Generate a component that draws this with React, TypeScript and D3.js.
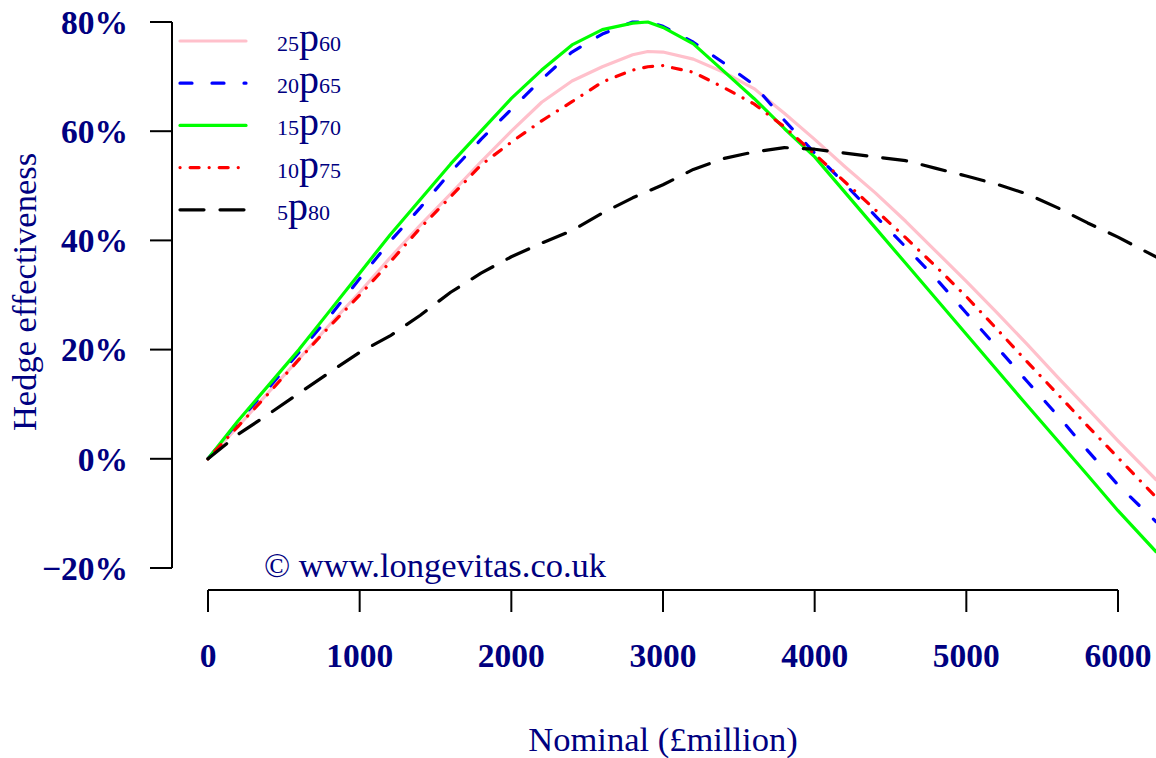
import React from 'react';
import * as d3 from 'd3';

// data
const nominal = [0, 200, 400, 600, 800, 1000, 1200, 1400, 1600, 1800, 2000, 2200, 2400, 2600, 2800, 2900, 3000, 3200, 3400, 3600, 3800, 4000, 4200, 4400, 4600, 4800, 5000, 5200, 5400, 5600, 5800, 6000, 6250];
const p25_60 = [0, 6, 12.2, 18.3, 24.5, 30.5, 36.8, 42.8, 48.5, 54.4, 60, 65.3, 69.2, 71.8, 74, 74.6, 74.5, 73.2, 70.8, 67.8, 63.3, 58.5, 53.5, 48.7, 43.5, 38, 32.5, 26.8, 21, 15, 9.2, 3.3, -3.8];
const p20_65 = [0, 6.8, 13, 19.5, 26, 33, 39.8, 46, 52.5, 58.5, 64, 69.5, 74.5, 77.8, 80, 80, 79.2, 76.3, 72.5, 68.5, 62, 56, 50.3, 44.5, 38.8, 33, 26.7, 20.5, 14.2, 8, 1.5, -4.8, -11.5];
const p15_70 = [0, 7, 13.5, 20, 27, 34, 41, 47.5, 54, 60, 66, 71.2, 75.8, 78.6, 79.8, 80, 79, 76, 71, 66, 60.5, 55.3, 48.8, 42.3, 35.8, 29.3, 22.8, 16.3, 9.8, 3.4, -3, -9.5, -17];
const p10_75 = [0, 6, 12, 18.2, 24.2, 30, 36, 42.3, 48, 53.8, 58, 61.9, 65.4, 69, 71.2, 71.8, 72, 70.8, 68, 65, 60.8, 55.8, 50.7, 45.6, 40.5, 35.2, 29.7, 23.8, 17.8, 11.9, 6, 0.2, -7];
const p5_80 = [0, 4.5, 8.2, 12, 15.8, 19.5, 22.5, 26.3, 30.5, 34, 37, 39.5, 41.8, 45, 47.8, 49, 50.2, 53, 55, 56.2, 57, 56.7, 56, 55.3, 54.6, 53.2, 51.8, 50.3, 48.5, 46, 43.2, 40.6, 37];

const legendPre = ['25', '20', '15', '10', '5'];
const legendPost = ['60', '65', '70', '75', '80'];
const xTicks = [0, 1000, 2000, 3000, 4000, 5000, 6000];
const yTicks = [-20, 0, 20, 40, 60, 80];

const navy = '#000080';
const font = "'Liberation Serif', 'Times New Roman', serif";

const seriesStyle = [
  { values: p25_60, color: '#FFC0CB', dash: null },
  { values: p20_65, color: '#0000FF', dash: '12 20' },
  { values: p15_70, color: '#00FF00', dash: null },
  { values: p10_75, color: '#FF0000', dash: '0.1 10 9 10' },
  { values: p5_80, color: '#000000', dash: '24 16' },
];

export default function App() {
  const width = 1156;
  const height = 758;
  const x = d3.scaleLinear().domain([0, 6000]).range([208, 1118]);
  const y = d3.scaleLinear().domain([-20, 80]).range([568, 22]);
  const line = d3
    .line<number>()
    .x((_, i) => x(nominal[i]))
    .y((d) => y(d));

  const legendX0 = 180;
  const legendX1 = 246;
  const legendY0 = 41;
  const legendStep = 42.2;

  return (
    <svg width={width} height={height} style={{ position: 'absolute', left: 0, top: 0, background: '#fff' }} fontFamily={font}>
      {/* lines */}
      {seriesStyle.map((s, i) => (
        <path
          key={i}
          d={line(s.values) || ''}
          fill='none'
          stroke={s.color}
          strokeWidth={3.2}
          strokeLinecap='round'
          strokeLinejoin='round'
          strokeDasharray={s.dash || undefined}
        />
      ))}
      {/* y axis */}
      <line x1={172} x2={172} y1={y(80)} y2={y(-20)} stroke='#000' strokeWidth={2} />
      {yTicks.map((t) => (
        <g key={t}>
          <line x1={150} x2={172} y1={y(t)} y2={y(t)} stroke='#000' strokeWidth={2} />
          <text x={128} y={y(t)} dy='0.35em' textAnchor='end' fontWeight='bold' fontSize={33.5} fill={navy}>
            {t < 0 ? '\u2212' + Math.abs(t) + '%' : t + '%'}
          </text>
        </g>
      ))}
      {/* x axis */}
      <line x1={x(0)} x2={x(6000)} y1={590} y2={590} stroke='#000' strokeWidth={2} />
      {xTicks.map((t) => (
        <g key={t}>
          <line x1={x(t)} x2={x(t)} y1={590} y2={612} stroke='#000' strokeWidth={2} />
          <text x={x(t)} y={667} textAnchor='middle' fontWeight='bold' fontSize={33.5} fill={navy}>
            {t}
          </text>
        </g>
      ))}
      {/* titles */}
      <text x={663} y={751} textAnchor='middle' fontSize={34.5} fill={navy}>
        Nominal (£million)
      </text>
      <text transform={`translate(36,${292}) rotate(-90)`} textAnchor='middle' fontSize={34.5} fill={navy}>
        Hedge effectiveness
      </text>
      <text x={264} y={577} fontSize={34.5} fill={navy}>
        © www.longevitas.co.uk
      </text>
      {/* legend */}
      {seriesStyle.map((s, i) => {
        const ly = legendY0 + i * legendStep;
        return (
          <g key={i}>
            <line
              x1={legendX0}
              x2={legendX1}
              y1={ly}
              y2={ly}
              stroke={s.color}
              strokeWidth={3.2}
              strokeLinecap='round'
              strokeDasharray={s.dash || undefined}
            />
            <text x={277} y={ly + 10} fill={navy}>
              <tspan fontSize={22}>{legendPre[i]}</tspan>
              <tspan fontSize={40}>p</tspan>
              <tspan fontSize={22}>{legendPost[i]}</tspan>
            </text>
          </g>
        );
      })}
    </svg>
  );
}
